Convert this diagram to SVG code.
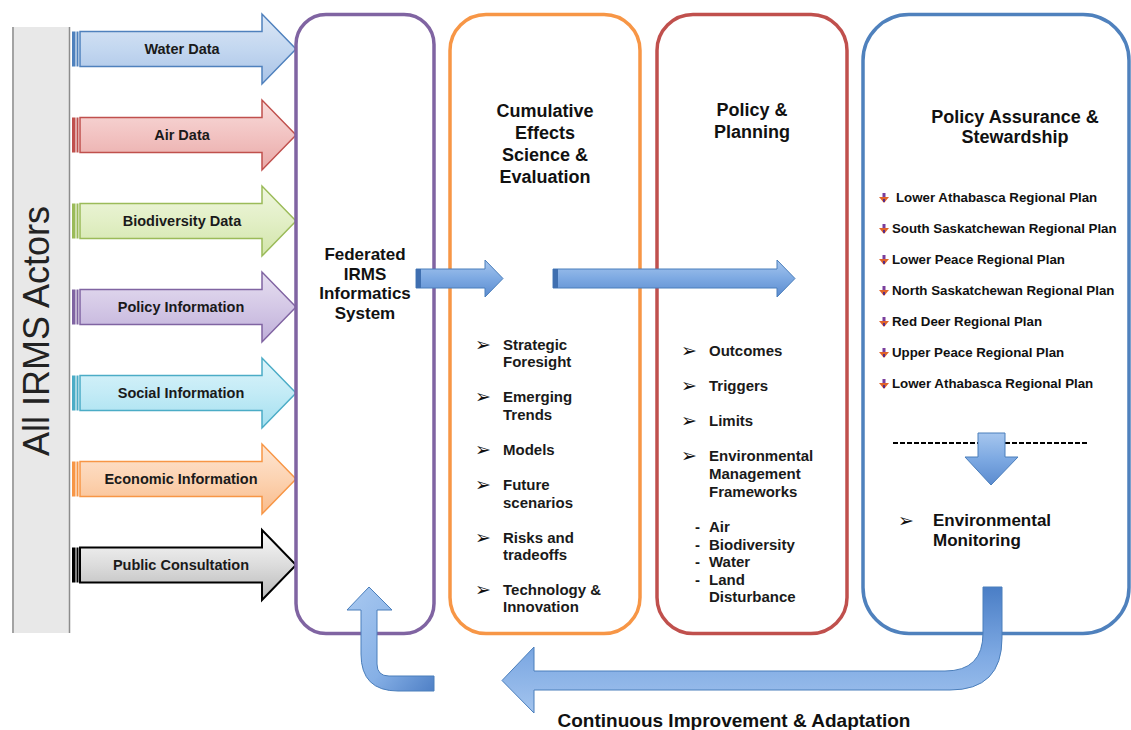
<svg xmlns="http://www.w3.org/2000/svg" width="1131" height="730" viewBox="0 0 1131 730">
<defs>
<style>
text{font-family:"Liberation Sans",Arial,"DejaVu Sans",sans-serif;fill:#111}
.lbl{font-weight:bold;font-size:14.5px;text-anchor:middle;fill:#1a1a1a}
.hd{font-weight:bold;font-size:18px;text-anchor:middle}
.fd{font-weight:bold;font-size:17px;text-anchor:middle}
.li{font-weight:bold;font-size:15px;fill:#1a1a1a}
.bu{font-family:"DejaVu Sans",sans-serif;font-size:19px;fill:#111}
.rp{font-weight:bold;font-size:13.3px;fill:#111}
.panel{fill:#fff;stroke-width:3.5}
.ba{fill:url(#blueV);stroke:#4A7EBB;stroke-width:1}
</style>
<linearGradient id="gW" x1="0" y1="0" x2="0" y2="1"><stop offset="0" stop-color="#DCE7F5"/><stop offset="0.5" stop-color="#C3D7F0"/><stop offset="1" stop-color="#A9C3E6"/></linearGradient>
<linearGradient id="gA" x1="0" y1="0" x2="0" y2="1"><stop offset="0" stop-color="#F8DCDB"/><stop offset="0.5" stop-color="#F2C3C2"/><stop offset="1" stop-color="#E9A9A7"/></linearGradient>
<linearGradient id="gB" x1="0" y1="0" x2="0" y2="1"><stop offset="0" stop-color="#EFF6DE"/><stop offset="0.5" stop-color="#E2EFC6"/><stop offset="1" stop-color="#D2E5AA"/></linearGradient>
<linearGradient id="gP" x1="0" y1="0" x2="0" y2="1"><stop offset="0" stop-color="#E6DFF0"/><stop offset="0.5" stop-color="#D4C8E6"/><stop offset="1" stop-color="#BFAFD9"/></linearGradient>
<linearGradient id="gS" x1="0" y1="0" x2="0" y2="1"><stop offset="0" stop-color="#DDF4FA"/><stop offset="0.5" stop-color="#C3EBF6"/><stop offset="1" stop-color="#A3DFEF"/></linearGradient>
<linearGradient id="gE" x1="0" y1="0" x2="0" y2="1"><stop offset="0" stop-color="#FDE6D3"/><stop offset="0.5" stop-color="#FCD3B2"/><stop offset="1" stop-color="#F9BC8C"/></linearGradient>
<linearGradient id="gC" x1="0" y1="0" x2="0" y2="1"><stop offset="0" stop-color="#FAFAFA"/><stop offset="0.5" stop-color="#DCDCDC"/><stop offset="1" stop-color="#B8B8B8"/></linearGradient>
<linearGradient id="blueV" x1="0" y1="0" x2="0" y2="1"><stop offset="0" stop-color="#A6C6EE"/><stop offset="0.5" stop-color="#7DA9E2"/><stop offset="1" stop-color="#5B8BCF"/></linearGradient>
<linearGradient id="blueD" x1="0" y1="0" x2="1" y2="1"><stop offset="0" stop-color="#A9C9F0"/><stop offset="0.6" stop-color="#86B0E6"/><stop offset="1" stop-color="#4F80C6"/></linearGradient>
<linearGradient id="blueU" x1="0" y1="0" x2="0" y2="1"><stop offset="0" stop-color="#4A7EC6"/><stop offset="0.55" stop-color="#7FAAE3"/><stop offset="1" stop-color="#A3C4EE"/></linearGradient>
<g id="dn">
<rect x="3.5" y="0" width="3" height="5" fill="#7A3E9D"/>
<polygon points="0,4 10,4 5,10" fill="#E0632A"/>
<rect x="4" y="6" width="2" height="3" fill="#5B2C83"/>
</g>
</defs>

<g id="actors">
<rect x="12" y="27" width="58" height="606" fill="#E8E8E8"/>
<line x1="13" y1="27" x2="13" y2="633" stroke="#8C8C8C" stroke-width="1.5"/>
<line x1="69.5" y1="27" x2="69.5" y2="633" stroke="#8C8C8C" stroke-width="1.5"/>
<text transform="translate(49,331) rotate(-90)" style="font-size:36px;text-anchor:middle;fill:#222">All IRMS Actors</text>
</g>

<g id="in-water">
<rect x="72" y="31.5" width="3.5" height="35" fill="#4F81BD"/><rect x="76.5" y="31.5" width="2" height="35" fill="#4F81BD"/>
<polygon points="80,31.5 262,31.5 262,14 296,49 262,84 262,66.5 80,66.5" fill="url(#gW)" stroke="#4F81BD" stroke-width="1.5"/>
<text class="lbl" x="182" y="54">Water Data</text>
</g>
<g id="in-air">
<rect x="72" y="117.5" width="3.5" height="35" fill="#C0504D"/><rect x="76.5" y="117.5" width="2" height="35" fill="#C0504D"/>
<polygon points="80,117.5 262,117.5 262,100 296,135 262,170 262,152.5 80,152.5" fill="url(#gA)" stroke="#C0504D" stroke-width="1.5"/>
<text class="lbl" x="182" y="140">Air Data</text>
</g>
<g id="in-bio">
<rect x="72" y="203.5" width="3.5" height="35" fill="#9BBB59"/><rect x="76.5" y="203.5" width="2" height="35" fill="#9BBB59"/>
<polygon points="80,203.5 262,203.5 262,186 296,221 262,256 262,238.5 80,238.5" fill="url(#gB)" stroke="#9BBB59" stroke-width="1.5"/>
<text class="lbl" x="182" y="226">Biodiversity Data</text>
</g>
<g id="in-policy">
<rect x="72" y="289.5" width="3.5" height="35" fill="#8064A2"/><rect x="76.5" y="289.5" width="2" height="35" fill="#8064A2"/>
<polygon points="80,289.5 262,289.5 262,272 296,307 262,342 262,324.5 80,324.5" fill="url(#gP)" stroke="#8064A2" stroke-width="1.5"/>
<text class="lbl" x="181" y="312">Policy Information</text>
</g>
<g id="in-social">
<rect x="72" y="375.5" width="3.5" height="35" fill="#4BACC6"/><rect x="76.5" y="375.5" width="2" height="35" fill="#4BACC6"/>
<polygon points="80,375.5 262,375.5 262,358 296,393 262,428 262,410.5 80,410.5" fill="url(#gS)" stroke="#4BACC6" stroke-width="1.5"/>
<text class="lbl" x="181" y="398">Social Information</text>
</g>
<g id="in-econ">
<rect x="72" y="461.5" width="3.5" height="35" fill="#F79646"/><rect x="76.5" y="461.5" width="2" height="35" fill="#F79646"/>
<polygon points="80,461.5 262,461.5 262,444 296,479 262,514 262,496.5 80,496.5" fill="url(#gE)" stroke="#F79646" stroke-width="1.5"/>
<text class="lbl" x="181" y="484">Economic Information</text>
</g>
<g id="in-public">
<rect x="72" y="547.5" width="3.5" height="35" fill="#000"/><rect x="76.5" y="547.5" width="2" height="35" fill="#000"/>
<polygon points="80,547.5 262,547.5 262,530 296,565 262,600 262,582.5 80,582.5" fill="url(#gC)" stroke="#000" stroke-width="2"/>
<text class="lbl" x="181" y="570">Public Consultation</text>
</g>

<g id="federated">
<rect class="panel" x="296" y="14.5" width="138" height="619" rx="30" stroke="#8064A2"/>
<text class="fd" x="365" y="260">Federated</text>
<text class="fd" x="365" y="280">IRMS</text>
<text class="fd" x="365" y="299">Informatics</text>
<text class="fd" x="365" y="319">System</text>
</g>

<g id="cumulative">
<rect class="panel" x="450" y="14.5" width="190" height="619" rx="36" stroke="#F79646"/>
<text class="hd" x="545" y="117">Cumulative</text>
<text class="hd" x="545" y="139">Effects</text>
<text class="hd" x="545" y="161">Science &amp;</text>
<text class="hd" x="545" y="183">Evaluation</text>
<text class="bu" x="475" y="351">➢</text><text class="li" x="503" y="350">Strategic</text><text class="li" x="503" y="367">Foresight</text>
<text class="bu" x="475" y="403">➢</text><text class="li" x="503" y="402">Emerging</text><text class="li" x="503" y="420">Trends</text>
<text class="bu" x="475" y="456">➢</text><text class="li" x="503" y="455">Models</text>
<text class="bu" x="475" y="491">➢</text><text class="li" x="503" y="490">Future</text><text class="li" x="503" y="508">scenarios</text>
<text class="bu" x="475" y="544">➢</text><text class="li" x="503" y="543">Risks and</text><text class="li" x="503" y="560">tradeoffs</text>
<text class="bu" x="475" y="596">➢</text><text class="li" x="503" y="595">Technology &amp;</text><text class="li" x="503" y="612">Innovation</text>
</g>

<g id="policy">
<rect class="panel" x="657" y="14.5" width="190" height="619" rx="36" stroke="#C0504D"/>
<text class="hd" x="752" y="116">Policy &amp;</text>
<text class="hd" x="752" y="138">Planning</text>
<text class="bu" x="681" y="357">➢</text><text class="li" x="709" y="356">Outcomes</text>
<text class="bu" x="681" y="392">➢</text><text class="li" x="709" y="391">Triggers</text>
<text class="bu" x="681" y="427">➢</text><text class="li" x="709" y="426">Limits</text>
<text class="bu" x="681" y="462">➢</text><text class="li" x="709" y="461">Environmental</text><text class="li" x="709" y="479">Management</text><text class="li" x="709" y="497">Frameworks</text>
<text class="li" x="695" y="532">-</text><text class="li" x="709" y="532">Air</text>
<text class="li" x="695" y="550">-</text><text class="li" x="709" y="550">Biodiversity</text>
<text class="li" x="695" y="567">-</text><text class="li" x="709" y="567">Water</text>
<text class="li" x="695" y="585">-</text><text class="li" x="709" y="585">Land</text>
<text class="li" x="709" y="602">Disturbance</text>
</g>

<g id="assurance">
<rect class="panel" x="863" y="14.5" width="266" height="619" rx="46" stroke="#4F81BD"/>
<text class="hd" x="1015" y="123">Policy Assurance &amp;</text>
<text class="hd" x="1015" y="143">Stewardship</text>
<use href="#dn" x="879" y="193"/><text class="rp" x="896" y="202">Lower Athabasca Regional Plan</text>
<use href="#dn" x="879" y="224"/><text class="rp" x="892" y="233">South Saskatchewan Regional Plan</text>
<use href="#dn" x="879" y="255"/><text class="rp" x="892" y="264">Lower Peace Regional Plan</text>
<use href="#dn" x="879" y="286"/><text class="rp" x="892" y="295">North Saskatchewan Regional Plan</text>
<use href="#dn" x="879" y="317"/><text class="rp" x="892" y="326">Red Deer Regional Plan</text>
<use href="#dn" x="879" y="348"/><text class="rp" x="892" y="357">Upper Peace Regional Plan</text>
<use href="#dn" x="879" y="379"/><text class="rp" x="892" y="388">Lower Athabasca Regional Plan</text>
<line x1="893" y1="443" x2="1089" y2="443" stroke="#000" stroke-width="2" stroke-dasharray="5 2"/>
<polygon points="978,433 1005,433 1005,457 1018,457 991,485 965,457 978,457" fill="url(#blueV)" stroke="#4A7EBB" stroke-width="1"/>
<text class="bu" x="898" y="527">➢</text>
<text class="fd" x="933" y="526" style="text-anchor:start">Environmental</text>
<text class="fd" x="933" y="546" style="text-anchor:start">Monitoring</text>
</g>

<g id="connectors">
<polygon class="ba" points="416,269 485,269 485,260 503,278.5 485,297 485,288 416,288"/>
<rect x="416" y="269" width="5" height="19" fill="#3F6FB0"/>
<polygon class="ba" points="553,269 777,269 777,260 795,278.5 777,297 777,288 553,288"/>
<rect x="553" y="269" width="5" height="19" fill="#3F6FB0"/>
<path d="M983,587 L1002,587 L1002,638 Q1002,690 950,690 L534,690 L534,713 L502,680.5 L534,647 L534,671 L945,671 Q983,671 983,633 Z" fill="url(#blueU)" stroke="#4A7EBB" stroke-width="1"/>
<path d="M369,587 L392,610 L377,610 L377,664 Q377,676 389,676 L434,676 L434,691 L398,691 Q361,691 361,654 L361,610 L347,610 Z" fill="url(#blueD)" stroke="#4A7EBB" stroke-width="1"/>
<text x="734" y="727" style="font-weight:bold;font-size:19px;text-anchor:middle">Continuous Improvement &amp; Adaptation</text>
</g>
</svg>
